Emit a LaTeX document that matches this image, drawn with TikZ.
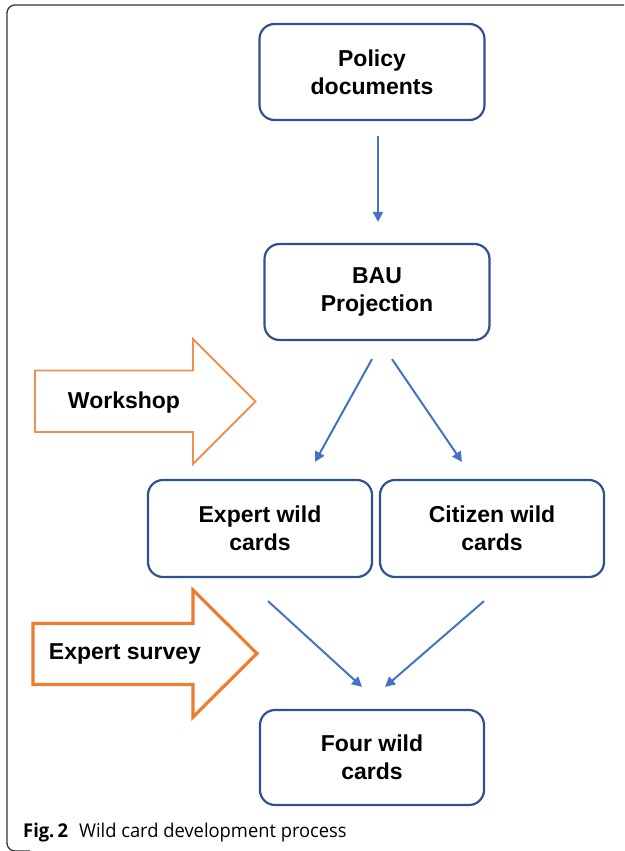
\documentclass[tikz,border=0pt]{standalone}
\usepackage{fontspec}
\setmainfont{Liberation Sans}
\newfontfamily\capfont[FakeStretch=0.965]{Open Sans}
\usetikzlibrary{arrows.meta}
\definecolor{boxblue}{HTML}{2F528F}
\definecolor{lineblue}{HTML}{4472C4}
\definecolor{arrorange}{HTML}{ED7D31}

\begin{document}
\begin{tikzpicture}[x=1pt,y=-1pt,
    card/.style={draw=boxblue,line width=2.2pt,rounded corners=15pt,minimum width=225pt,minimum height=96pt,align=center,font=\fontsize{23}{28}\selectfont\bfseries},
    flow/.style={lineblue,line width=2pt,-{Triangle[length=10pt,width=10pt]}},
    blockarrow/.style={draw=arrorange,line join=miter},
    tag/.style={anchor=base,font=\fontsize{23}{28}\selectfont\bfseries}]
    \useasboundingbox (0,0) rectangle (624,851);
    \draw[line width=1.3pt,black!80,rounded corners=8pt] (624,5) -- (7,5) -- (7,851) -- (30,851);

    \node[card] (pol) at (372,72) {Policy\\documents};
    \node[card] (bau) at (377,292) {BAU\\Projection};
    \node[card,minimum width=224pt,minimum height=97pt] (exp) at (260,528.5) {Expert wild\\cards};
    \node[card,minimum width=224pt,minimum height=97pt] (cit) at (492,528.5) {Citizen wild\\cards};
    \node[card,minimum width=224pt,minimum height=95pt] (four) at (372,757.5) {Four wild\\cards};

    \draw[flow] ([xshift=6pt,yshift=-15pt]pol.south) -- ([xshift=1pt,yshift=21pt]bau.north);
    \draw[flow] ([xshift=-5pt,yshift=-18pt]bau.south) -- ([xshift=55pt,yshift=17pt]exp.north);
    \draw[flow] ([xshift=15pt,yshift=-18pt]bau.south) -- ([xshift=-30pt,yshift=17pt]cit.north);
    \draw[flow] ([xshift=8pt,yshift=-23pt]exp.south) -- ([xshift=-10pt,yshift=22pt]four.north);
    \draw[flow] ([xshift=-8pt,yshift=-23pt]cit.south) -- ([xshift=13pt,yshift=22pt]four.north);

    \draw[blockarrow,line width=1.8pt,draw=arrorange!85] (35,370.5) -- (193,370.5) -- (193,339) -- (255.5,401.5) -- (193,464) -- (193,432) -- (35,432) -- cycle;
    \node[tag] (ws) at (124,408) {Workshop};
    \draw[blockarrow,line width=3.2pt] (33,623.5) -- (193,623.5) -- (193,590) -- (257,653.5) -- (193,717) -- (193,684.5) -- (33,684.5) -- cycle;
    \node[tag] (es) at (125,659) {Expert survey};

    \node[anchor=base west,inner sep=0pt,font=\capfont\fontsize{19}{21}\selectfont] (cap) at (23,837) {\textbf{Fig.\,2}\hspace{11pt}Wild card development process};
\end{tikzpicture}
\end{document}
